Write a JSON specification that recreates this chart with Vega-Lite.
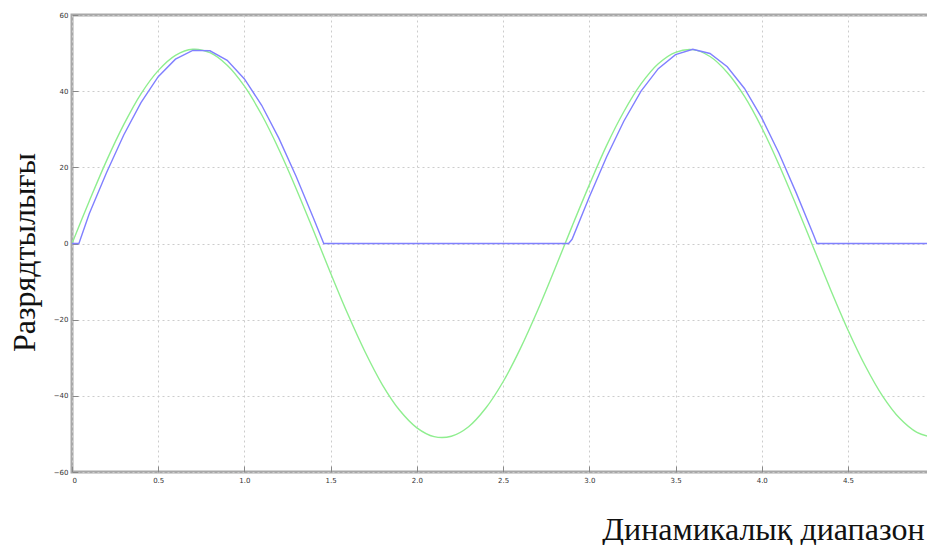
{
  "$schema": "https://vega.github.io/schema/vega-lite/v6.json",
  "width": 857,
  "height": 457,
  "autosize": {"type": "none"},
  "padding": {"left": 72, "top": 15, "right": 0, "bottom": 73},
  "background": "white",
  "config": {
    "view": {"stroke": "#a8a8a8", "strokeWidth": 3},
    "axis": {
      "domain": false,
      "labelFont": "DejaVu Sans",
      "labelFontSize": 7,
      "labelColor": "#333333",
      "tickColor": "#888888",
      "grid": true,
      "gridColor": "#cccccc",
      "gridDash": [2, 3],
      "gridWidth": 1
    }
  },
  "data": {
    "values": [
      {"x": 0, "y": 0, "s": "in"},
      {"x": 0.1, "y": 11.1, "s": "in"},
      {"x": 0.2, "y": 21.7, "s": "in"},
      {"x": 0.3, "y": 31.2, "s": "in"},
      {"x": 0.4, "y": 39.3, "s": "in"},
      {"x": 0.5, "y": 45.4, "s": "in"},
      {"x": 0.6, "y": 49.4, "s": "in"},
      {"x": 0.7, "y": 51.0, "s": "in"},
      {"x": 0.8, "y": 50.1, "s": "in"},
      {"x": 0.9, "y": 46.8, "s": "in"},
      {"x": 1.0, "y": 41.3, "s": "in"},
      {"x": 1.1, "y": 33.8, "s": "in"},
      {"x": 1.2, "y": 24.7, "s": "in"},
      {"x": 1.3, "y": 14.4, "s": "in"},
      {"x": 1.4, "y": 3.4, "s": "in"},
      {"x": 1.5, "y": -7.8, "s": "in"},
      {"x": 1.6, "y": -18.6, "s": "in"},
      {"x": 1.7, "y": -28.5, "s": "in"},
      {"x": 1.8, "y": -37.1, "s": "in"},
      {"x": 1.9, "y": -43.8, "s": "in"},
      {"x": 2.0, "y": -48.4, "s": "in"},
      {"x": 2.1, "y": -50.7, "s": "in"},
      {"x": 2.2, "y": -50.6, "s": "in"},
      {"x": 2.3, "y": -48.1, "s": "in"},
      {"x": 2.4, "y": -43.2, "s": "in"},
      {"x": 2.5, "y": -36.3, "s": "in"},
      {"x": 2.6, "y": -27.6, "s": "in"},
      {"x": 2.7, "y": -17.6, "s": "in"},
      {"x": 2.8, "y": -6.7, "s": "in"},
      {"x": 2.9, "y": 4.5, "s": "in"},
      {"x": 3.0, "y": 15.4, "s": "in"},
      {"x": 3.1, "y": 25.7, "s": "in"},
      {"x": 3.2, "y": 34.6, "s": "in"},
      {"x": 3.3, "y": 41.9, "s": "in"},
      {"x": 3.4, "y": 47.2, "s": "in"},
      {"x": 3.5, "y": 50.2, "s": "in"},
      {"x": 3.6, "y": 50.9, "s": "in"},
      {"x": 3.7, "y": 49.1, "s": "in"},
      {"x": 3.8, "y": 44.9, "s": "in"},
      {"x": 3.9, "y": 38.6, "s": "in"},
      {"x": 4.0, "y": 30.4, "s": "in"},
      {"x": 4.1, "y": 20.7, "s": "in"},
      {"x": 4.2, "y": 10.0, "s": "in"},
      {"x": 4.3, "y": -1.1, "s": "in"},
      {"x": 4.4, "y": -12.2, "s": "in"},
      {"x": 4.5, "y": -22.7, "s": "in"},
      {"x": 4.6, "y": -32.1, "s": "in"},
      {"x": 4.7, "y": -40.0, "s": "in"},
      {"x": 4.8, "y": -45.9, "s": "in"},
      {"x": 4.9, "y": -49.6, "s": "in"},
      {"x": 5.0, "y": -51.0, "s": "in"},
      {"x": 0, "y": 0, "s": "out"},
      {"x": 0.04, "y": 0, "s": "out"},
      {"x": 0.1, "y": 7.8, "s": "out"},
      {"x": 0.2, "y": 18.6, "s": "out"},
      {"x": 0.3, "y": 28.5, "s": "out"},
      {"x": 0.4, "y": 37.0, "s": "out"},
      {"x": 0.5, "y": 43.8, "s": "out"},
      {"x": 0.6, "y": 48.4, "s": "out"},
      {"x": 0.7, "y": 50.7, "s": "out"},
      {"x": 0.8, "y": 50.6, "s": "out"},
      {"x": 0.9, "y": 48.1, "s": "out"},
      {"x": 1.0, "y": 43.2, "s": "out"},
      {"x": 1.1, "y": 36.3, "s": "out"},
      {"x": 1.2, "y": 27.6, "s": "out"},
      {"x": 1.3, "y": 17.6, "s": "out"},
      {"x": 1.4, "y": 6.7, "s": "out"},
      {"x": 1.46, "y": 0, "s": "out"},
      {"x": 2.0, "y": 0, "s": "out"},
      {"x": 2.5, "y": 0, "s": "out"},
      {"x": 2.88, "y": 0, "s": "out"},
      {"x": 2.9, "y": 1.1, "s": "out"},
      {"x": 3.0, "y": 12.2, "s": "out"},
      {"x": 3.1, "y": 22.7, "s": "out"},
      {"x": 3.2, "y": 32.1, "s": "out"},
      {"x": 3.3, "y": 40.0, "s": "out"},
      {"x": 3.4, "y": 45.9, "s": "out"},
      {"x": 3.5, "y": 49.6, "s": "out"},
      {"x": 3.6, "y": 51.0, "s": "out"},
      {"x": 3.7, "y": 49.9, "s": "out"},
      {"x": 3.8, "y": 46.4, "s": "out"},
      {"x": 3.9, "y": 40.7, "s": "out"},
      {"x": 4.0, "y": 33.0, "s": "out"},
      {"x": 4.1, "y": 23.7, "s": "out"},
      {"x": 4.2, "y": 13.3, "s": "out"},
      {"x": 4.3, "y": 2.3, "s": "out"},
      {"x": 4.32, "y": 0, "s": "out"},
      {"x": 4.6, "y": 0, "s": "out"},
      {"x": 5.0, "y": 0, "s": "out"}
    ]
  },
  "encoding": {
    "x": {
      "field": "x",
      "type": "quantitative",
      "scale": {"domain": [0, 4.97], "nice": false, "zero": false},
      "axis": {
        "values": [0, 0.5, 1, 1.5, 2, 2.5, 3, 3.5, 4, 4.5],
        "labelExpr": "datum.value == 0 ? '0' : datum.label",
        "tickSize": -6,
        "labelPadding": 10,
        "title": "Динамикалық диапазон",
        "titleFont": "Liberation Serif",
        "titleFontSize": 32,
        "titleFontWeight": "normal",
        "titleColor": "#111111",
        "titleAnchor": null,
        "titleAlign": "right",
        "titleBaseline": "alphabetic",
        "titleX": 852,
        "titleY": 67
      }
    },
    "y": {
      "field": "y",
      "type": "quantitative",
      "scale": {"domain": [-60, 60], "nice": false},
      "axis": {
        "values": [-60, -40, -20, 0, 20, 40, 60],
        "tickSize": -6,
        "labelPadding": 10,
        "title": "Разрядтылығы",
        "titleFont": "Liberation Serif",
        "titleFontSize": 32,
        "titleFontWeight": "normal",
        "titleColor": "#111111",
        "titleAngle": -90,
        "titleAlign": "center",
        "titleBaseline": "middle",
        "titleX": -48,
        "titleY": 237
      }
    },
    "color": {
      "field": "s",
      "type": "nominal",
      "scale": {"domain": ["in", "out"], "range": ["#8fee8f", "#8080ff"]},
      "legend": null
    },
    "order": {"field": "x", "type": "quantitative"}
  },
  "layer": [
    {
      "transform": [{"filter": "datum.s == 'in'"}],
      "mark": {"type": "line", "strokeWidth": 1.4, "clip": true, "interpolate": "catmull-rom"}
    },
    {
      "transform": [{"filter": "datum.s == 'out'"}],
      "mark": {"type": "line", "strokeWidth": 1.4, "clip": true, "interpolate": "linear"}
    }
  ]
}
